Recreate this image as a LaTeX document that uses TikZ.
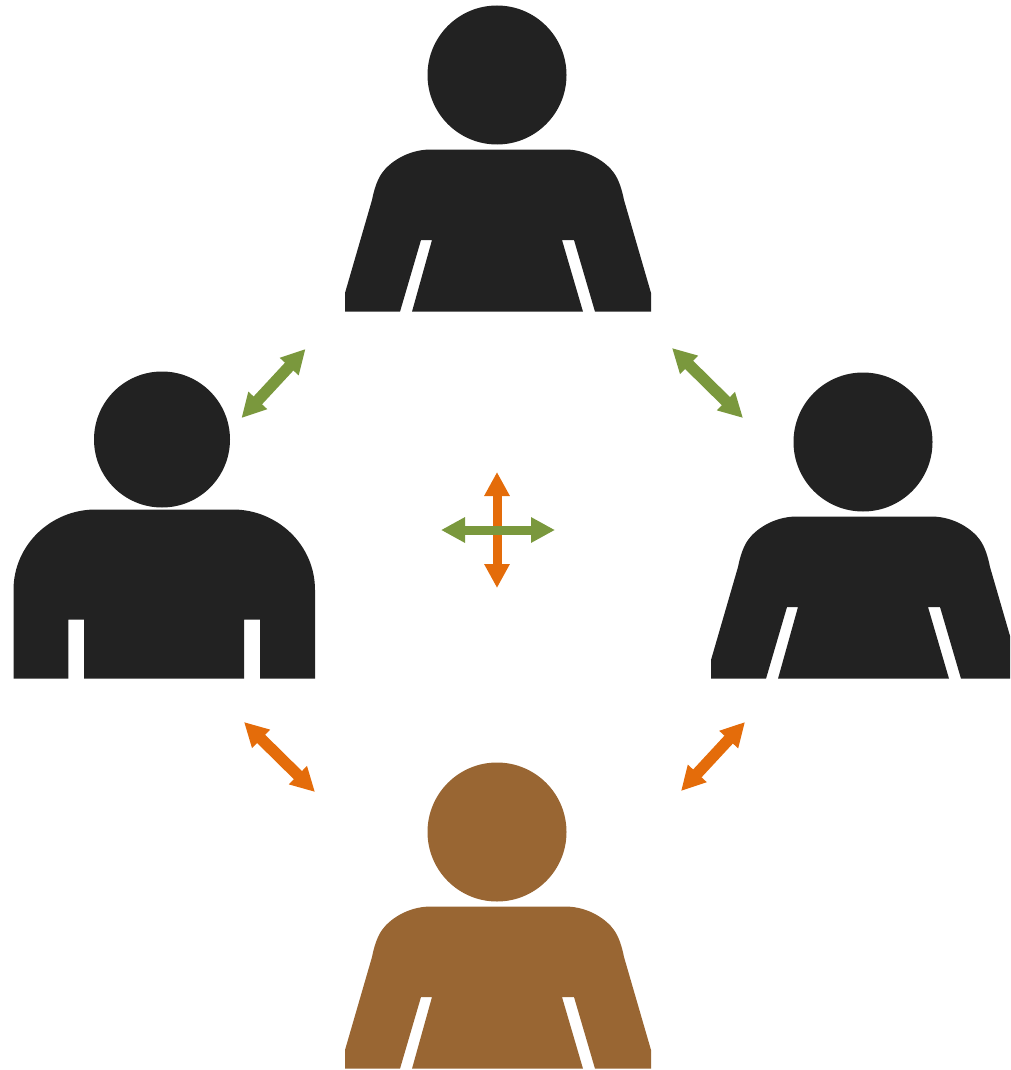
\documentclass[tikz,border=0pt]{standalone}
\usetikzlibrary{arrows.meta}

\definecolor{figblack}{HTML}{222222}
\definecolor{figbrown}{HTML}{996633}
\definecolor{arrowgreen}{HTML}{7A983D}
\definecolor{arroworange}{HTML}{E46C0A}

\tikzset{
	pics/womanfig/.style={code={
		\fill[#1] (0, 0) circle [radius=69.5];
		\fill[#1] (-152, 236.7) -- (-152, 218) -- (-125, 125)
			.. controls (-123, 115) and (-120, 105) .. (-115, 98)
			.. controls (-108, 88) and (-90, 74.5) .. (-66, 74.5)
			-- (68, 74.5)
			.. controls (92, 74.5) and (110, 88) .. (117, 98)
			.. controls (122, 105) and (125, 115) .. (127, 125)
			-- (154, 218) -- (154, 236.7) -- (98, 236.7) -- (77, 165) -- (65, 165)
			-- (86, 236.7) -- (-85, 236.7) -- (-65, 165) -- (-76, 165) -- (-97, 236.7) -- cycle;
	}},
	pics/manfig/.style={code={
		\fill[#1] (0, 0) circle [radius=68];
		\fill[#1] (-148.5, 239) -- (-148.5, 150.5)
			.. controls (-148.5, 105) and (-110.5, 70) .. (-66.5, 70)
			-- (71, 70)
			.. controls (115, 70) and (153, 105) .. (153, 150.5)
			-- (153, 239) -- (98, 239) -- (98, 180) -- (82, 180) -- (82, 239)
			-- (-78, 239) -- (-78, 180) -- (-93.7, 180) -- (-93.7, 239) -- cycle;
	}},
	linkarrow/.style={line width=9pt, {Triangle[length=24pt, width=24pt]}-{Triangle[length=24pt, width=24pt]}},
	slantarrow/.style={linkarrow, line width=11.5pt},
}

\begin{document}
\begin{tikzpicture}[x=1pt, y=-1pt]
	\useasboundingbox (0, 0) rectangle (1010, 1070);
	\clip (0, 0) rectangle (1010, 1070);

	% the four people
	\pic at (497, 75) {womanfig=figblack};
	\pic at (863, 442) {womanfig=figblack};
	\pic at (497, 832) {womanfig=figbrown};
	\pic at (162, 439.5) {manfig=figblack};

	% arrow ends
	\coordinate (tlA) at (305.5, 349);
	\coordinate (tlB) at (241.5, 418);
	\coordinate (trA) at (672, 348);
	\coordinate (trB) at (743, 418);
	\coordinate (blA) at (244, 722);
	\coordinate (blB) at (315, 792);
	\coordinate (brA) at (745, 722);
	\coordinate (brB) at (681, 791);
	\coordinate (midN) at (497, 472);
	\coordinate (midS) at (497, 588);
	\coordinate (midW) at (441, 530);
	\coordinate (midE) at (555, 530);

	\draw[slantarrow, arrowgreen] (tlA) -- (tlB);
	\draw[slantarrow, arrowgreen] (trA) -- (trB);
	\draw[slantarrow, arroworange] (blA) -- (blB);
	\draw[slantarrow, arroworange] (brA) -- (brB);
	\draw[linkarrow, arroworange] (midN) -- (midS);
	\draw[linkarrow, arrowgreen] (midW) -- (midE);
\end{tikzpicture}
\end{document}
